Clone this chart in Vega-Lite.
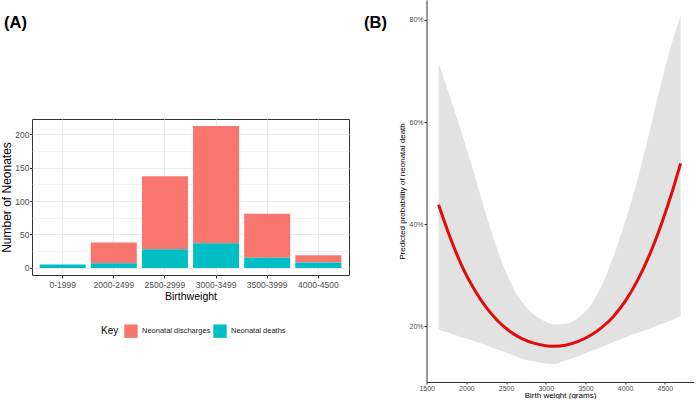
{
  "$schema": "https://vega.github.io/schema/vega-lite/v6.json",
  "padding": {"left": 0, "top": 0, "right": 0, "bottom": 0},
  "background": "white",
  "spacing": 13.5,
  "config": {"font": "Liberation Sans"},
  "datasets": {
    "bars": [
      {"birthweight": "0-1999", "outcome": "Neonatal discharges", "count": 0},
      {"birthweight": "0-1999", "outcome": "Neonatal deaths", "count": 5},
      {"birthweight": "2000-2499", "outcome": "Neonatal discharges", "count": 31},
      {"birthweight": "2000-2499", "outcome": "Neonatal deaths", "count": 7},
      {"birthweight": "2500-2999", "outcome": "Neonatal discharges", "count": 109},
      {"birthweight": "2500-2999", "outcome": "Neonatal deaths", "count": 28},
      {"birthweight": "3000-3499", "outcome": "Neonatal discharges", "count": 175},
      {"birthweight": "3000-3499", "outcome": "Neonatal deaths", "count": 37},
      {"birthweight": "3500-3999", "outcome": "Neonatal discharges", "count": 66},
      {"birthweight": "3500-3999", "outcome": "Neonatal deaths", "count": 15},
      {"birthweight": "4000-4500", "outcome": "Neonatal discharges", "count": 11},
      {"birthweight": "4000-4500", "outcome": "Neonatal deaths", "count": 8}
    ],
    "curve": [
      {"weight": 1650, "fit": 43.8, "lower": 19.4, "upper": 71.6},
      {"weight": 1800, "fit": 37.2, "lower": 18.6, "upper": 64.6},
      {"weight": 1950, "fit": 31.6, "lower": 17.8, "upper": 57.4},
      {"weight": 2100, "fit": 27.2, "lower": 17.1, "upper": 49.8},
      {"weight": 2250, "fit": 23.7, "lower": 16.3, "upper": 41.8},
      {"weight": 2400, "fit": 21.0, "lower": 15.4, "upper": 34.6},
      {"weight": 2550, "fit": 19.0, "lower": 14.6, "upper": 28.8},
      {"weight": 2700, "fit": 17.6, "lower": 13.7, "upper": 24.8},
      {"weight": 2850, "fit": 16.7, "lower": 13.1, "upper": 22.3},
      {"weight": 3000, "fit": 16.2, "lower": 12.7, "upper": 20.9},
      {"weight": 3100, "fit": 16.1, "lower": 12.6, "upper": 20.4},
      {"weight": 3250, "fit": 16.3, "lower": 13.3, "upper": 20.5},
      {"weight": 3400, "fit": 17.0, "lower": 14.1, "upper": 21.6},
      {"weight": 3550, "fit": 18.1, "lower": 15.0, "upper": 23.8},
      {"weight": 3700, "fit": 19.7, "lower": 15.9, "upper": 27.8},
      {"weight": 3850, "fit": 21.9, "lower": 16.9, "upper": 33.6},
      {"weight": 4000, "fit": 24.9, "lower": 17.8, "upper": 40.5},
      {"weight": 4150, "fit": 28.8, "lower": 18.7, "upper": 48.3},
      {"weight": 4300, "fit": 33.7, "lower": 19.5, "upper": 57.6},
      {"weight": 4450, "fit": 39.7, "lower": 20.4, "upper": 67.3},
      {"weight": 4600, "fit": 46.7, "lower": 21.3, "upper": 76.0},
      {"weight": 4700, "fit": 51.9, "lower": 22.0, "upper": 80.8}
    ]
  },
  "hconcat": [
    {
      "spacing": 0,
      "vconcat": [
        {
          "width": 317,
          "height": 118,
          "view": {"stroke": null},
          "title": {"text": "(A)", "anchor": "start", "frame": "group", "offset": -31, "dx": -28, "fontSize": 16.5, "fontWeight": "bold", "color": "black", "font": "Liberation Sans"},
          "data": {"values": []},
          "mark": "rule",
          "encoding": {}
        },
        {
          "width": 317,
          "height": 156,
          "view": {"stroke": "#333333", "strokeWidth": 1},
          "data": {"name": "bars"},
          "mark": {"type": "bar"},
          "encoding": {
            "x": {
              "field": "birthweight", "type": "nominal", "sort": null,
              "scale": {"paddingInner": 0.1, "paddingOuter": 0.15},
              "axis": {"title": "Birthweight", "labelAngle": 0, "grid": true, "gridColor": "#EBEBEB", "domain": false, "tickColor": "#333333", "tickSize": 3, "labelFontSize": 8.5, "labelColor": "#4D4D4D", "labelPadding": 2, "titleFontSize": 10.5, "titleFontWeight": "normal", "titleColor": "black", "titlePadding": 3}
            },
            "y": {
              "field": "count", "type": "quantitative", "stack": "zero",
              "scale": {"domain": [-10.6, 222.6], "nice": false, "zero": false},
              "axis": {
                "title": "Number of Neonates",
                "values": [0, 25, 50, 75, 100, 125, 150, 175, 200],
                "labelExpr": "datum.value % 50 === 0 ? datum.label : ''",
                "labelFlush": false,
                "tickOpacity": {"condition": {"test": "datum.value % 50 === 0", "value": 1}, "value": 0},
                "gridColor": "#EBEBEB",
                "gridWidth": {"condition": {"test": "datum.value % 50 === 0", "value": 1}, "value": 0.6},
                "domain": false, "tickColor": "#333333", "tickSize": 2.5,
                "labelFontSize": 8.5, "labelColor": "#4D4D4D", "labelPadding": 0.5,
                "titleFontSize": 12, "titleFontWeight": "normal", "titleColor": "black", "titlePadding": 1
              }
            },
            "order": {"field": "outcome", "type": "ordinal", "sort": "ascending"},
            "color": {
              "field": "outcome", "type": "nominal",
              "scale": {"domain": ["Neonatal discharges", "Neonatal deaths"], "range": ["#F8766D", "#00BFC4"]},
              "legend": {"orient": "none", "legendX": 69, "legendY": 324, "direction": "horizontal", "title": "Key", "titleOrient": "left", "titleFontSize": 10, "titleFontWeight": "normal", "titleColor": "black", "titlePadding": 5, "symbolType": "square", "symbolSize": 180, "symbolStrokeWidth": 0, "symbolOpacity": 1, "labelFontSize": 7.5, "labelColor": "#222222", "labelOffset": 4, "columnPadding": 2}
            }
          }
        }
      ]
    },
    {
      "width": 267,
      "height": 382,
      "view": {"stroke": null},
      "title": {"text": "(B)", "anchor": "start", "frame": "bounds", "offset": -31, "dx": -35, "fontSize": 16.5, "fontWeight": "bold", "color": "black", "font": "Liberation Sans"},
      "data": {"name": "curve"},
      "encoding": {
        "x": {
          "field": "weight", "type": "quantitative",
          "scale": {"domain": [1497.5, 4862], "nice": false, "zero": false},
          "axis": {"title": "Birth weight (grams)", "values": [1500, 2000, 2500, 3000, 3500, 4000, 4500], "format": "d", "labelFlush": false, "grid": false, "domainColor": "#333333", "tickColor": "#333333", "tickSize": 2, "labelFontSize": 7, "labelColor": "#4D4D4D", "labelPadding": 0, "titleFontSize": 8, "titleFontWeight": "normal", "titleColor": "black", "titlePadding": 0}
        }
      },
      "layer": [
        {
          "mark": {"type": "area", "color": "#E2E2E2", "interpolate": "monotone"},
          "encoding": {
            "y": {
              "field": "lower", "type": "quantitative",
              "scale": {"domain": [9.1, 83.9], "nice": false, "zero": false},
              "axis": {"title": "Predicted probability of neonatal death", "values": [20, 40, 60, 80], "labelExpr": "datum.value + '%'", "labelFlush": false, "grid": false, "domainColor": "#333333", "tickColor": "#333333", "tickSize": 2.5, "labelFontSize": 7, "labelColor": "#4D4D4D", "labelPadding": 1, "titleFontSize": 8, "titleFontWeight": "normal", "titleColor": "black", "titlePadding": 2}
            },
            "y2": {"field": "upper"}
          }
        },
        {
          "mark": {"type": "line", "color": "#E30B0B", "strokeWidth": 3, "interpolate": "monotone"},
          "encoding": {"y": {"field": "fit", "type": "quantitative"}}
        }
      ]
    }
  ]
}
